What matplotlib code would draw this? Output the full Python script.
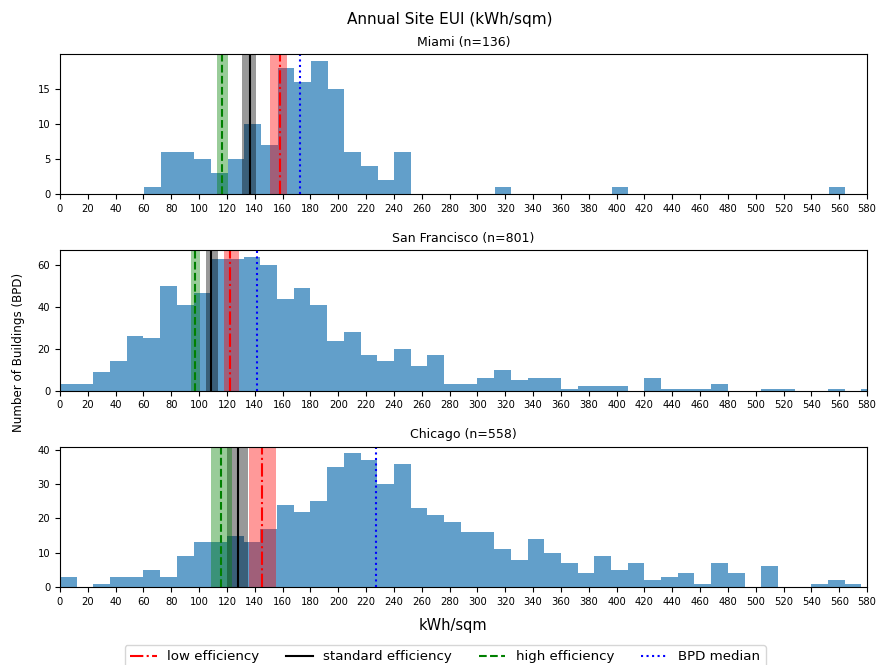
import numpy as np
import matplotlib
matplotlib.use("Agg")
from matplotlib import pyplot as plt

# histogram counts per 12 kWh/sqm bin, starting at bin_start
bin_width = 12.0

miami_start = 60.4
miami_counts = [1, 6, 6, 5, 3, 5, 10, 7, 18, 16, 19, 15, 6, 4, 2, 6,
                0, 0, 0, 0, 0, 1, 0, 0, 0, 0, 0, 0, 1,
                0, 0, 0, 0, 0, 0, 0, 0, 0, 0, 0, 0, 1]

sf_start = 0.0
sf_counts = [3, 3, 9, 14, 26, 25, 50, 41, 47, 63, 63, 64, 60, 44, 49, 41,
             24, 28, 17, 14, 20, 12, 17, 3, 3, 6, 10, 5, 6, 6, 1, 2, 2, 2,
             0, 6, 1, 1, 1, 3, 0, 0, 1, 1, 0, 0, 1, 0, 1]

chicago_start = 0.0
chicago_counts = [3, 0, 1, 3, 3, 5, 3, 9, 13, 13, 15, 13, 17, 24, 22, 25,
                  35, 39, 37, 30, 36, 23, 21, 19, 16, 16, 11, 8, 14, 10, 7, 4,
                  9, 5, 7, 2, 3, 4, 1, 7, 4, 0, 6, 0, 0, 1, 2, 1]

cities = ["Miami", "San Francisco", "Chicago"]
city_n = [136, 801, 558]
starts = [miami_start, sf_start, chicago_start]
counts = [miami_counts, sf_counts, chicago_counts]
yticks = [[0, 5, 10, 15], [0, 20, 40, 60], [0, 10, 20, 30, 40]]

# efficiency thresholds (line) and their ranges (shaded band)
low_eff = [158.0, 122.0, 145.1]
low_band = [(151.0, 163.5), (118.0, 128.9), (135.8, 155.4)]
std_eff = [136.4, 108.6, 128.0]
std_band = [(131.0, 141.0), (105.1, 113.7), (119.9, 135.4)]
high_eff = [116.5, 97.0, 115.8]
high_band = [(112.6, 120.6), (94.4, 100.3), (108.2, 123.7)]
bpd_median = [172.5, 141.6, 226.8]

fig, axs = plt.subplots(3, 1, figsize=(8.78, 6.65), dpi=100)
fig.subplots_adjust(left=0.0683, right=0.9875, top=0.9188, bottom=0.1173, hspace=0.4)

for i, ax in enumerate(axs):
    edges = starts[i] + bin_width * np.arange(len(counts[i]) + 1)
    ax.hist(edges[:-1], bins=edges, weights=counts[i], color='tab:blue', alpha=0.7)

    ax.axvspan(*low_band[i], color='red', alpha=0.4, lw=0)
    ax.axvspan(*std_band[i], color='black', alpha=0.4, lw=0)
    ax.axvspan(*high_band[i], color='green', alpha=0.4, lw=0)
    ax.axvline(low_eff[i], color='r', ls='-.', lw=1.5, label='low efficiency')
    ax.axvline(std_eff[i], color='k', ls='-', lw=1.5, label='standard efficiency')
    ax.axvline(high_eff[i], color='g', ls='--', lw=1.5, label='high efficiency')
    ax.axvline(bpd_median[i], color='b', ls=':', lw=1.5, label='BPD median')

    ax.set_xlim(0, 580)
    ax.set_xticks(range(0, 581, 20))
    ax.set_yticks(yticks[i])
    ax.tick_params(labelsize=7.2)
    ax.set_title("%s (n=%d)" % (cities[i], city_n[i]), fontsize=9)

fig.suptitle("Annual Site EUI (kWh/sqm)", fontsize=11, x=0.5125, y=0.97, va='center')
fig.text(0.021, 0.47, "Number of Buildings (BPD)", rotation=90, fontsize=8.6,
         ha='center', va='center')
fig.text(0.516, 0.06, "kWh/sqm", fontsize=10.5, ha='center', va='center')

handles, labels = axs[0].get_legend_handles_labels()
fig.legend(handles, labels, loc='upper center', ncol=4, fontsize=9.6,
           bbox_to_anchor=(0.507, 0.03), borderaxespad=0)

fig.savefig("out.png", dpi=100)
